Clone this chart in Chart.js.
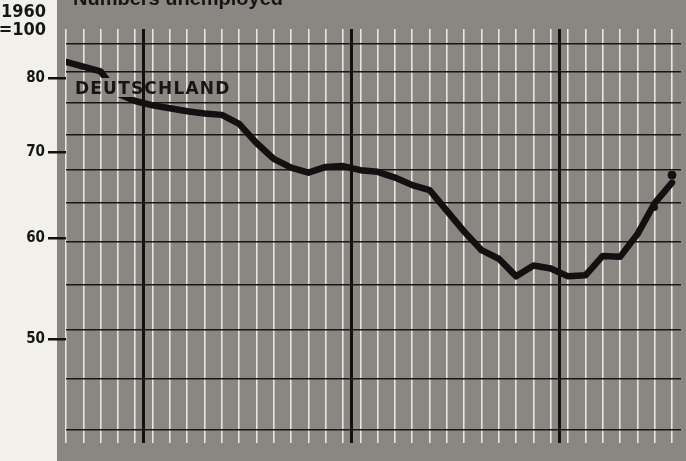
<!DOCTYPE html>
<html>
<head>
<meta charset="utf-8">
<script src="https://cdn.jsdelivr.net/npm/chart.js@4.4.1/dist/chart.umd.min.js"></script>
<style>
  html, body { margin: 0; padding: 0; background: #f1f0eb; }
  #wrap { width: 686px; height: 461px; position: relative; }
</style>
</head>
<body>
<div id="wrap"><canvas id="chart"></canvas></div>
<script>
// Monthly index of numbers unemployed, 1960 = 100 (one value per month, 36 months)
const unemployed = [82.4, 81.7, 81.0, 77.8, 76.8, 76.2, 75.8, 75.4, 75.1, 74.9, 73.7, 71.2,
                    69.2, 68.1, 67.5, 68.2, 68.3, 67.8, 67.6, 66.9, 66.0, 65.4, 63.0, 60.7,
                    58.7, 57.8, 56.0, 57.1, 56.8, 56.0, 56.1, 58.1, 58.0, 60.4, 63.9, 66.3];
// separate marks near the end of the line
const latestMonths = [34, 35];
const latestValues = [63.4, 67.2];

const yTicks = [50, 60, 70, 80];
// black horizontal rules of the background grid
const ruleValues = [42.5, 46.6, 50.9, 55.2, 59.6, 63.9, 67.9, 72.2, 76.6, 81.0, 85.2];
// year boundaries (between months)
const yearBreaks = [4.5, 16.5, 28.5];

const yMin = 41.48, yMax = 87.43;
const xMin = 0, xMax = 35.52;

const narrow = '"Liberation Sans Narrow", "DejaVu Sans Condensed", "Arial Narrow", sans-serif';

const paperPlugin = {
  id: 'paper',
  beforeDraw(chart) {
    const { ctx, chartArea, width, height } = chart;
    ctx.save();
    ctx.fillStyle = '#f1f0eb';
    ctx.fillRect(0, 0, width, height);
    ctx.fillStyle = '#8a8783';
    ctx.fillRect(chartArea.left - 9, 0, width, height);
    ctx.restore();
  },
  beforeDatasetDraw(chart, args) {
    if (args.index !== 0) return;
    // the country label sits over the line
    const ctx = chart.ctx;
    ctx.save();
    ctx.beginPath();
    ctx.rect(0, 0, chart.width, chart.height);
    ctx.rect(70, 78, 170, 19);
    ctx.clip('evenodd');
  },
  afterDatasetDraw(chart, args) {
    if (args.index !== 0) return;
    chart.ctx.restore();
  },
  afterDraw(chart) {
    const ctx = chart.ctx;
    ctx.save();
    ctx.fillStyle = '#161616';
    ctx.textBaseline = 'alphabetic';

    ctx.font = 'bold 20px "Liberation Sans", Arial, sans-serif';
    ctx.textAlign = 'left';
    ctx.fillText('Numbers unemployed', 73, 5);

    ctx.font = 'bold 18px ' + narrow;
    ctx.textAlign = 'right';
    ctx.fillText('1960', 46, 17);
    ctx.fillText('=100', 46, 35);

    ctx.font = 'bold 17px "DejaVu Sans", sans-serif';
    ctx.textAlign = 'left';
    ctx.letterSpacing = '1.2px';
    ctx.fillText('DEUTSCHLAND', 75, 94);
    ctx.restore();
  }
};

const ctx = document.getElementById('chart').getContext('2d');
new Chart(ctx, {
  type: 'line',
  data: {
    datasets: [{
      data: unemployed.map((v, i) => ({ x: i, y: v })),
      borderColor: '#111',
      borderWidth: 6.5,
      borderCapStyle: 'round',
      borderJoinStyle: 'round',
      pointRadius: 0,
      tension: 0,
      xAxisID: 'x',
      yAxisID: 'y'
    }, {
      type: 'scatter',
      data: latestMonths.map((m, i) => ({ x: m, y: latestValues[i] })),
      backgroundColor: '#111',
      borderColor: '#111',
      pointRadius: [3, 4],
      xAxisID: 'x',
      yAxisID: 'y'
    }]
  },
  options: {
    responsive: true,
    maintainAspectRatio: false,
    animation: false,
    layout: { padding: { left: 0, top: 29, right: 3, bottom: 18 } },
    plugins: { legend: { display: false }, tooltip: { enabled: false } },
    scales: {
      x: {
        type: 'linear', min: xMin, max: xMax,
        afterBuildTicks: s => { s.ticks = unemployed.map((_, i) => ({ value: i })); },
        ticks: { display: false },
        grid: { color: '#e8e6e0', lineWidth: 1.6, drawTicks: false },
        border: { display: false },
        afterFit: s => { s.height = 0; }
      },
      xYear: {
        type: 'linear', position: 'bottom', min: xMin, max: xMax,
        afterBuildTicks: s => { s.ticks = yearBreaks.map(v => ({ value: v })); },
        ticks: { display: false },
        grid: { color: '#111', lineWidth: 3, drawTicks: false },
        border: { display: false },
        afterFit: s => { s.height = 0; }
      },
      yRules: {
        type: 'logarithmic', position: 'left', min: yMin, max: yMax,
        afterBuildTicks: s => { s.ticks = ruleValues.map(v => ({ value: v })); },
        ticks: { display: false },
        grid: { color: '#161616', lineWidth: 1.6, drawTicks: false },
        border: { display: false },
        afterFit: s => { s.width = 0; }
      },
      y: {
        type: 'logarithmic', position: 'left', min: yMin, max: yMax,
        afterBuildTicks: s => { s.ticks = yTicks.map(v => ({ value: v })); },
        ticks: {
          padding: 3,
          color: '#161616',
          font: { family: narrow, size: 15, weight: 'bold' },
          callback: v => String(v)
        },
        grid: { drawOnChartArea: false, drawTicks: true, tickLength: 18, color: '#111', lineWidth: 2.5 },
        border: { display: false },
        afterFit: s => { s.width = 66; }
      }
    }
  },
  plugins: [paperPlugin]
});
</script>
</body>
</html>
